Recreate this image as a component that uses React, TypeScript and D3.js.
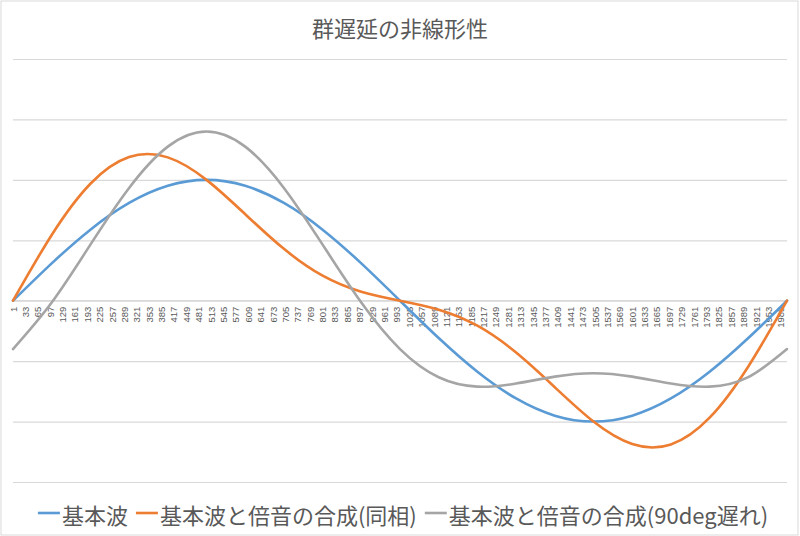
import React, { useRef, useEffect } from "react";
import * as d3 from "d3";

const WIDTH = 800;
const HEIGHT = 536;
const PLOT = { left: 13, right: 787, top: 59, bottom: 482 };

const TITLE = "群遅延の非線形性";

// sample indices (every 100 points of the 2000-point sheet)
const sampleIndex = [
  1, 101, 201, 301, 401, 501, 601, 701, 801, 901, 1001, 1101, 1201, 1301, 1401,
  1501, 1601, 1701, 1801, 1901, 2001,
];

const baseWave = [
  0, 0.309, 0.588, 0.809, 0.951, 1.0, 0.951, 0.809, 0.588, 0.309, 0, -0.309,
  -0.588, -0.809, -0.951, -1.0, -0.951, -0.809, -0.588, -0.309, 0,
];

const inPhase = [
  0, 0.544, 0.968, 1.189, 1.186, 1.0, 0.716, 0.429, 0.207, 0.074, 0, -0.074,
  -0.207, -0.429, -0.716, -1.0, -1.186, -1.189, -0.968, -0.544, 0,
];

const delayed90 = [
  -0.4, -0.015, 0.464, 0.933, 1.275, 1.4, 1.275, 0.933, 0.464, -0.015, -0.4,
  -0.633, -0.711, -0.685, -0.628, -0.6, -0.628, -0.685, -0.711, -0.633, -0.4,
];

const seriesNames = [
  "基本波",
  "基本波と倍音の合成(同相)",
  "基本波と倍音の合成(90deg遅れ)",
];
const seriesColors = ["#5b9bd5", "#ed7d31", "#a5a5a5"];
const seriesValues = [baseWave, inPhase, delayed90];

const yTicks = [-1.5, -1, -0.5, 0, 0.5, 1, 1.5, 2];

const xTickLabels = [
  1, 33, 65, 97, 129, 161, 193, 225, 257, 289, 321, 353, 385, 417, 449, 481,
  513, 545, 577, 609, 641, 673, 705, 737, 769, 801, 833, 865, 897, 929, 961,
  993, 1025, 1057, 1089, 1121, 1153, 1185, 1217, 1249, 1281, 1313, 1345, 1377,
  1409, 1441, 1473, 1505, 1537, 1569, 1601, 1633, 1665, 1697, 1729, 1761, 1793,
  1825, 1857, 1889, 1921, 1953, 1985,
];

const JP_FONT = "'Noto Sans CJK JP', 'Noto Sans', sans-serif";

export default function App() {
  const svgRef = useRef<SVGSVGElement | null>(null);

  useEffect(() => {
    const svg = d3.select(svgRef.current);
    svg.selectAll("*").remove();

    const x = d3.scaleLinear().domain([1, 2001]).range([PLOT.left, PLOT.right]);
    const y = d3.scaleLinear().domain([-1.5, 2]).range([PLOT.bottom, PLOT.top]);

    // background + border
    svg
      .append("rect")
      .attr("x", 1)
      .attr("y", 1)
      .attr("width", WIDTH - 3)
      .attr("height", HEIGHT - 2)
      .attr("fill", "#fff")
      .attr("stroke", "#d9d9d9");

    // title
    svg
      .append("text")
      .attr("x", 400)
      .attr("y", 27)
      .attr("text-anchor", "middle")
      .attr("dominant-baseline", "central")
      .attr("font-family", JP_FONT)
      .attr("font-size", 22)
      .attr("fill", "#595959")
      .text(TITLE);

    // horizontal grid
    svg
      .append("g")
      .attr("class", "grid")
      .attr("transform", `translate(${PLOT.left},0)`)
      .call(
        d3
          .axisLeft(y)
          .tickValues(yTicks)
          .tickSize(-(PLOT.right - PLOT.left))
          .tickFormat(() => "")
      );
    svg.selectAll(".grid line").attr("stroke", "#d9d9d9").attr("stroke-width", 1.2);
    svg.selectAll(".grid path").remove();

    // category axis on y = 0
    const axisG = svg.append("g").attr("transform", `translate(0,${y(0)})`);
    axisG
      .append("line")
      .attr("x1", PLOT.left)
      .attr("x2", PLOT.right)
      .attr("stroke", "#d9d9d9")
      .attr("stroke-width", 1.2);
    axisG
      .selectAll("text")
      .data(xTickLabels)
      .enter()
      .append("text")
      .attr("transform", (d) => `translate(${x(d)},6) rotate(-90)`)
      .attr("text-anchor", "end")
      .attr("dominant-baseline", "central")
      .attr("font-family", "'Liberation Sans', Arial, sans-serif")
      .attr("font-size", 9.5)
      .attr("fill", "#595959")
      .text((d) => String(d));

    // series lines
    const line = d3
      .line<number>()
      .x((_, i) => x(sampleIndex[i]))
      .y((d) => y(d))
      .curve(d3.curveNatural);
    seriesValues.forEach((vals, s) => {
      svg
        .append("path")
        .datum(vals)
        .attr("fill", "none")
        .attr("stroke", seriesColors[s])
        .attr("stroke-width", 2.6)
        .attr("stroke-linecap", "round")
        .attr("d", line);
    });

    // legend, laid out by measured text widths
    const legend = svg.append("g");
    let cx = 0;
    seriesNames.forEach((name, s) => {
      const item = legend.append("g").attr("transform", `translate(${cx},0)`);
      item
        .append("line")
        .attr("x1", 0)
        .attr("x2", 22)
        .attr("y1", 0)
        .attr("y2", 0)
        .attr("stroke", seriesColors[s])
        .attr("stroke-width", 2.6);
      const t = item
        .append("text")
        .attr("x", 24)
        .attr("y", 1)
        .attr("dominant-baseline", "central")
        .attr("font-family", JP_FONT)
        .attr("font-size", 22)
        .attr("fill", "#595959")
        .text(name);
      const w = (t.node() as SVGTextElement).getComputedTextLength();
      cx += 24 + w + 8;
    });
    const total = cx - 8;
    legend.attr("transform", `translate(${403 - total / 2},513)`);
  }, []);

  return (
    <svg
      ref={svgRef}
      width={WIDTH}
      height={HEIGHT}
      style={{ position: "absolute", left: 0, top: 0, background: "#fff" }}
    />
  );
}
